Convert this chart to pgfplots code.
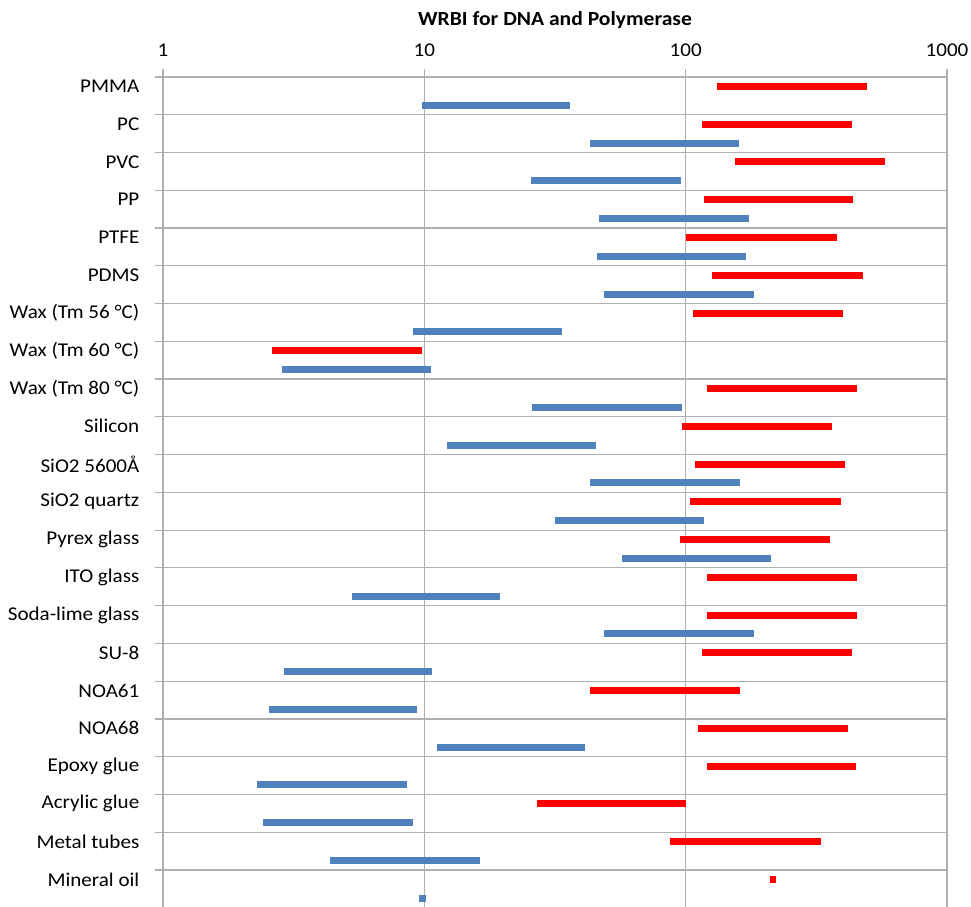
\documentclass[border=0pt]{standalone}
\usepackage{fontspec}
\setmainfont{Carlito}[FakeStretch=1.08]
\usepackage{pgfplots}
\pgfplotsset{compat=1.18}
\definecolor{barred}{RGB}{255,0,0}
\definecolor{barblue}{RGB}{79,129,189}
\definecolor{gridgray}{RGB}{175,175,175}
\begin{document}
\fontsize{19.5}{23}\selectfont
\begin{tikzpicture}
\begin{axis}[
  name=ax,
  scale only axis, width=784pt, height=830.7pt,
  xmode=log, xmin=1, xmax=1000,
  ymin=0, ymax=44, y dir=reverse,
  axis line style={draw=none},
  xtick={1,10,100,1000}, xticklabels={1,10,100,1000},
  minor xtick={}, minor tick length=0pt, xminorgrids=false,
  xtick pos=right, xticklabel pos=right,
  xticklabel style={yshift=6pt},
  ytick={0,2,...,42}, yticklabels={},
  ytick pos=left,
  tick align=outside, major tick length=8pt,
  tick style={gridgray, line width=1.2pt},
  grid=major, grid style={gridgray, line width=1.2pt},
  ticklabel style={font=\fontsize{19.5}{23}\selectfont},
  extra y ticks={0.5,2.5,...,42.5},
  extra y tick labels={PMMA,PC,PVC,PP,PTFE,PDMS,Wax (Tm 56 °C),Wax (Tm 60 °C),Wax (Tm 80 °C),Silicon,SiO2 5600Å,SiO2 quartz,Pyrex glass,ITO glass,Soda-lime glass,SU-8,NOA61,NOA68,Epoxy glue,Acrylic glue,Metal tubes,Mineral oil},
  extra y tick style={major tick length=0pt, grid=none, yticklabel style={xshift=-17pt}},
  title={WRBI for DNA and Polymerase},
  title style={font=\bfseries\fontsize{20}{24}\selectfont, at={(0.5,1)}, anchor=center, yshift=51pt},
]
\addplot[barred, line width=7pt, line cap=butt, unbounded coords=jump] coordinates {
(131.6,0.5) (493,0.5) (nan,nan)
(115.2,2.5) (431.9,2.5) (nan,nan)
(154.4,4.5) (578.7,4.5) (nan,nan)
(117.3,6.5) (435.7,6.5) (nan,nan)
(100,8.5) (378.1,8.5) (nan,nan)
(125.9,10.5) (476,10.5) (nan,nan)
(106.4,12.5) (398.7,12.5) (nan,nan)
(2.61,14.5) (9.80,14.5) (nan,nan)
(120.5,16.5) (451.5,16.5) (nan,nan)
(96.6,18.5) (361.6,18.5) (nan,nan)
(108.3,20.5) (405.8,20.5) (nan,nan)
(103.6,22.5) (391.7,22.5) (nan,nan)
(94.9,24.5) (355.3,24.5) (nan,nan)
(120.5,26.5) (451.5,26.5) (nan,nan)
(120.5,28.5) (451.5,28.5) (nan,nan)
(115.2,30.5) (431.9,30.5) (nan,nan)
(43.1,32.5) (161.4,32.5) (nan,nan)
(111.2,34.5) (416.8,34.5) (nan,nan)
(120.5,36.5) (447.4,36.5) (nan,nan)
(26.9,38.5) (100,38.5) (nan,nan)
(86.9,40.5) (328.1,40.5) (nan,nan)
(210.6,42.5) (222.1,42.5)
};
\addplot[barblue, line width=7pt, line cap=butt, unbounded coords=jump] coordinates {
(9.80,1.5) (36.2,1.5) (nan,nan)
(43.1,3.5) (160,3.5) (nan,nan)
(25.7,5.5) (95.7,5.5) (nan,nan)
(46.7,7.5) (174.8,7.5) (nan,nan)
(45.8,9.5) (170.3,9.5) (nan,nan)
(48.7,11.5) (182.7,11.5) (nan,nan)
(9.05,13.5) (33.7,13.5) (nan,nan)
(2.854,15.5) (10.6,15.5) (nan,nan)
(25.9,17.5) (96.6,17.5) (nan,nan)
(12.2,19.5) (45.4,19.5) (nan,nan)
(43.1,21.5) (161.4,21.5) (nan,nan)
(31.7,23.5) (117.3,23.5) (nan,nan)
(57.1,25.5) (212.5,25.5) (nan,nan)
(5.29,27.5) (19.4,27.5) (nan,nan)
(48.7,29.5) (182.7,29.5) (nan,nan)
(2.904,31.5) (10.7,31.5) (nan,nan)
(2.545,33.5) (9.38,33.5) (nan,nan)
(11.2,35.5) (41.3,35.5) (nan,nan)
(2.289,37.5) (8.56,37.5) (nan,nan)
(2.414,39.5) (9.03,39.5) (nan,nan)
(4.356,41.5) (16.3,41.5) (nan,nan)
(9.57,43.5) (10.15,43.5)
};
\end{axis}
\pgfresetboundingbox
\useasboundingbox ([xshift=-163pt,yshift=1.7pt]ax.south west) rectangle ([xshift=24pt,yshift=77pt]ax.north east);
\end{tikzpicture}
\end{document}
